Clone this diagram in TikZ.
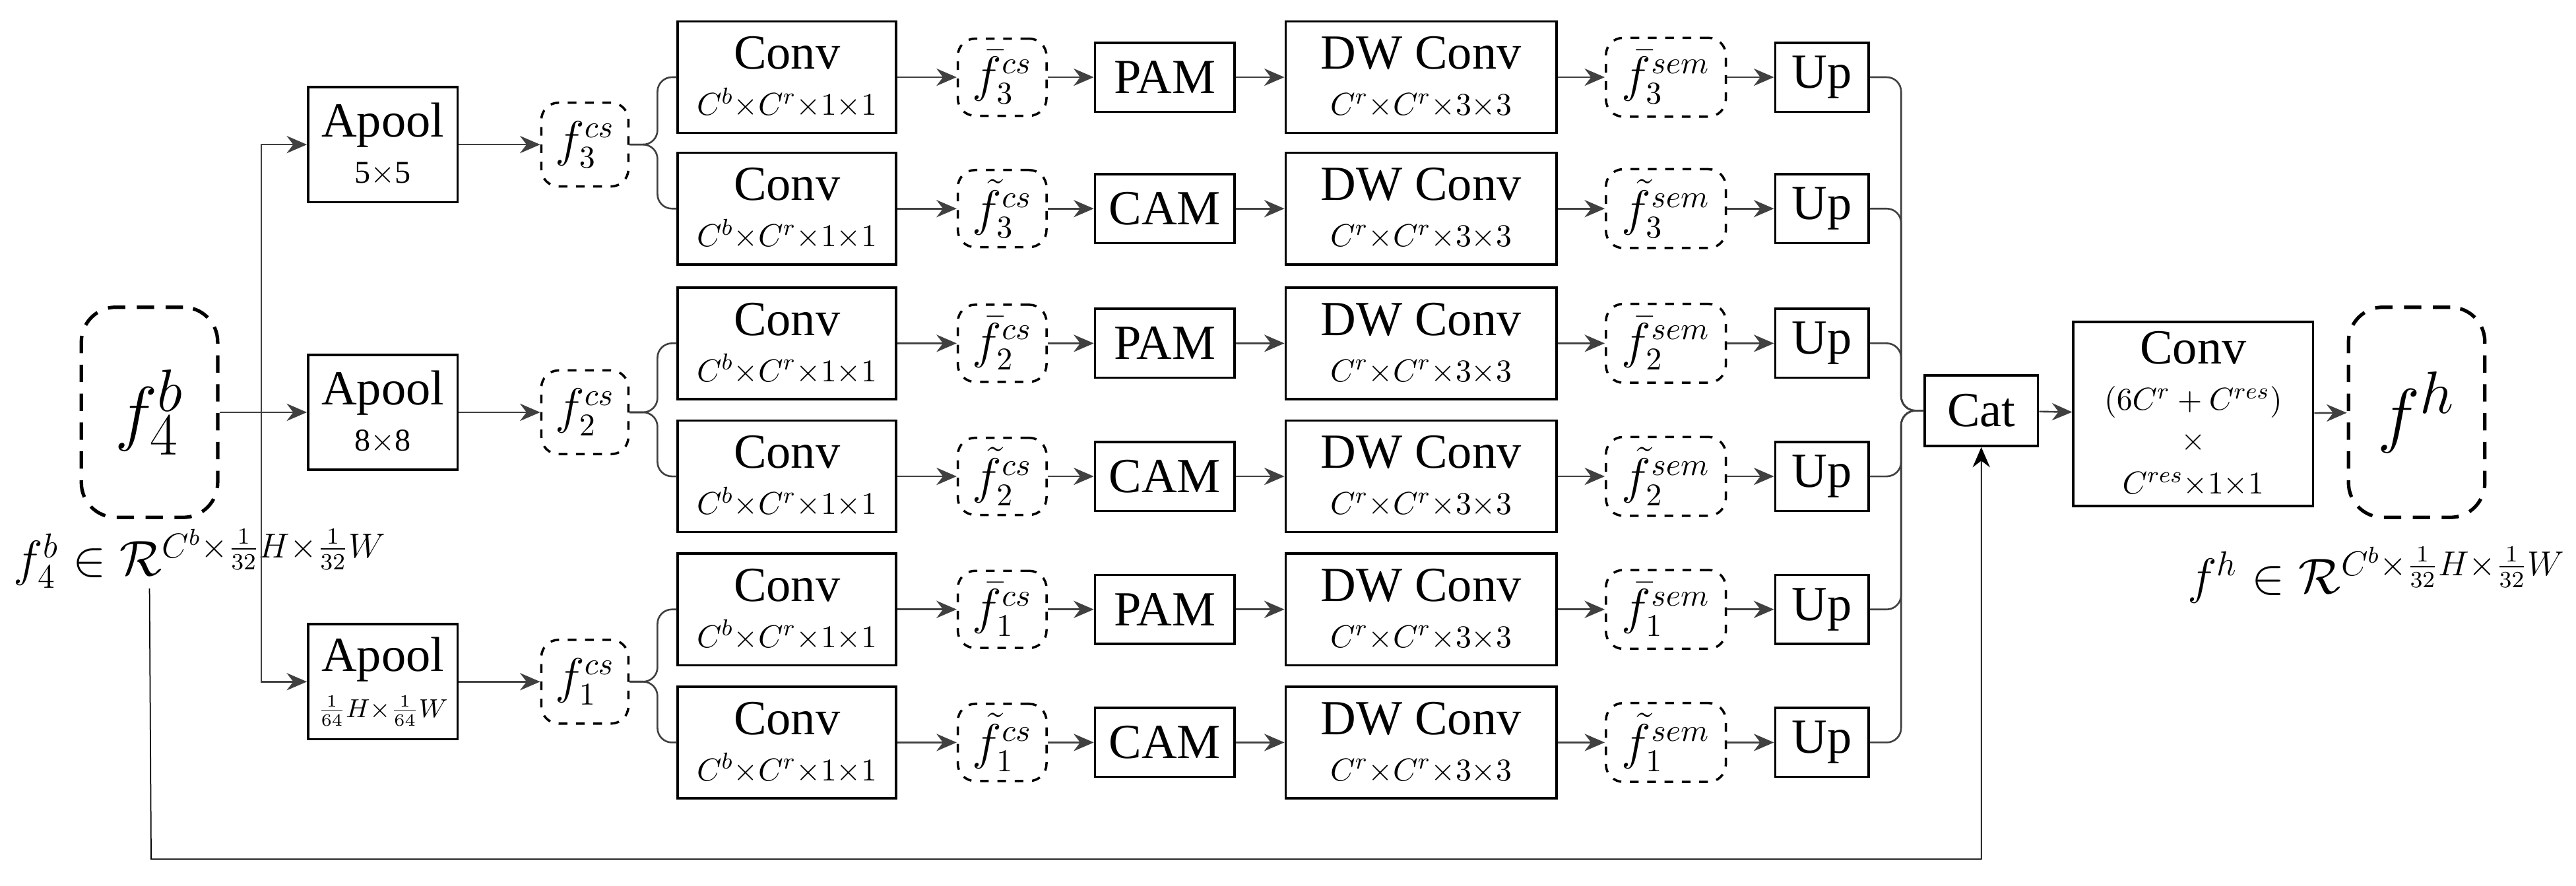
\documentclass[tikz,border=0pt]{standalone}
\usepackage{fontspec}
\setmainfont{Liberation Serif}
\usetikzlibrary{arrows.meta,positioning}

\tikzset{
  blk/.style={draw,thick,align=center,inner sep=1pt,font=\fontsize{17}{17}\selectfont},
  feat/.style={draw,thick,dashed,rounded corners=6pt,inner sep=1pt,font=\fontsize{16}{16}\selectfont},
  big/.style={feat,very thick,dash pattern=on 6pt off 4pt,rounded corners=12pt,minimum width=1.66cm,minimum height=2.56cm,font=\fontsize{28}{28}\selectfont},
  link/.style={-{Stealth[length=7pt,width=6pt]},black!75,semithick},
  conn/.style={black!75,semithick,rounded corners=5pt}
}
\newcommand{\sz}{\fontsize{11}{12}\selectfont}

\begin{document}
\begin{tikzpicture}[x=0.02cm,y=-0.02cm]
\useasboundingbox (0,0) rectangle (1568,539);

% input and pooling branches
\node[big] (f4b) at (91,251) {$f_4^b$};
\node[font=\fontsize{17}{17}\selectfont,anchor=west,inner sep=0pt] (flab) at (8,340) {$f_4^b\in\mathcal{R}^{C^b\times\frac{1}{32}H\times\frac{1}{32}W}$};

\node[blk,minimum width=1.82cm,minimum height=1.4cm] (apool3) at (233,88) {Apool\\[-1pt]{\sz 5$\times$5}};
\node[blk,minimum width=1.82cm,minimum height=1.4cm] (apool2) at (233,251) {Apool\\[-1pt]{\sz 8$\times$8}};
\node[blk,minimum width=1.82cm,minimum height=1.4cm] (apool1) at (233,415) {Apool\\[-1pt]{\fontsize{9}{10}\selectfont $\frac{1}{64}H{\times}\frac{1}{64}W$}};

\node[feat,minimum width=1.06cm,minimum height=1.02cm] (pcs3) at (356,88) {$f_3^{cs}$};
\node[feat,minimum width=1.06cm,minimum height=1.02cm] (pcs2) at (356,251) {$f_2^{cs}$};
\node[feat,minimum width=1.06cm,minimum height=1.02cm] (pcs1) at (356,415) {$f_1^{cs}$};

\coordinate (split) at (159,251);
\draw[link] (f4b.east |- split) -- (apool2.west);
\draw[link] (split) |- (apool3.west);
\draw[link] (split) |- (apool1.west);
\foreach \k in {1,2,3} \draw[link] (apool\k.east |- pcs\k) -- (pcs\k);

% six attention rows
\foreach \y/\n/\f/\a in {47/1/{\bar f}_3/PAM, 127/2/{\tilde f}_3/CAM, 209/3/{\bar f}_2/PAM,
                        290/4/{\tilde f}_2/CAM, 371/5/{\bar f}_1/PAM, 452/6/{\tilde f}_1/CAM}{
  \node[blk,minimum width=2.66cm,minimum height=1.36cm] (conv\n) at (479,\y) {Conv\\[-1pt]{\sz $C^b{\times}C^r{\times}1{\times}1$}};
  \node[feat,minimum width=1.08cm,minimum height=0.94cm] (fcs\n) at (610,\y) {$\f^{cs}$};
  \node[blk,minimum width=1.7cm,minimum height=0.84cm] (att\n) at (709,\y) {\a};
  \node[blk,minimum width=3.3cm,minimum height=1.36cm] (dw\n) at (865,\y) {DW Conv\\[-1pt]{\sz $C^r{\times}C^r{\times}3{\times}3$}};
  \node[feat,minimum width=1.46cm,minimum height=0.96cm] (sem\n) at (1014,\y) {$\f^{sem}$};
  \node[blk,minimum width=1.14cm,minimum height=0.84cm] (up\n) at (1109,\y) {Up};
  \draw[link] (conv\n) -- (fcs\n);
  \draw[link] (fcs\n) -- (att\n);
  \draw[link] (att\n) -- (dw\n);
  \draw[link] (dw\n) -- (sem\n);
  \draw[link] (sem\n) -- (up\n);
}

\foreach \k/\a/\b in {3/1/2, 2/3/4, 1/5/6}{
  \draw[conn] (pcs\k.east) -- ++(17,0) |- (conv\a.west);
  \draw[conn] (pcs\k.east) -- ++(17,0) |- (conv\b.west);
}

% fusion
\node[blk,minimum width=1.38cm,minimum height=0.86cm] (cat) at (1206,250) {Cat};
\node[blk,minimum width=2.92cm,minimum height=2.24cm] (cconv) at (1335,252) {Conv\\[-1pt]{\sz $(6C^r+C^{res})$}\\[-3pt]{\sz $\times$}\\[-2pt]{\sz $C^{res}{\times}1{\times}1$}};
\node[big] (fh) at (1471,251) {$f^h$};
\node[font=\fontsize{17}{17}\selectfont,anchor=east,inner sep=0pt] (fhlab) at (1562,350) {$f^h\in\mathcal{R}^{C^b\times\frac{1}{32}H\times\frac{1}{32}W}$};

\foreach \n in {1,...,6} \draw[conn] (up\n.east) -- ++(19,0) |- (cat.west);
\draw[link] (cat) -- (cconv);
\draw[link] (cconv) -- (fh);

\coordinate (skip) at (92,523);
\draw[link,thin,black] (flab.south -| f4b.south) -- (skip) -| (cat.south);
\end{tikzpicture}
\end{document}
